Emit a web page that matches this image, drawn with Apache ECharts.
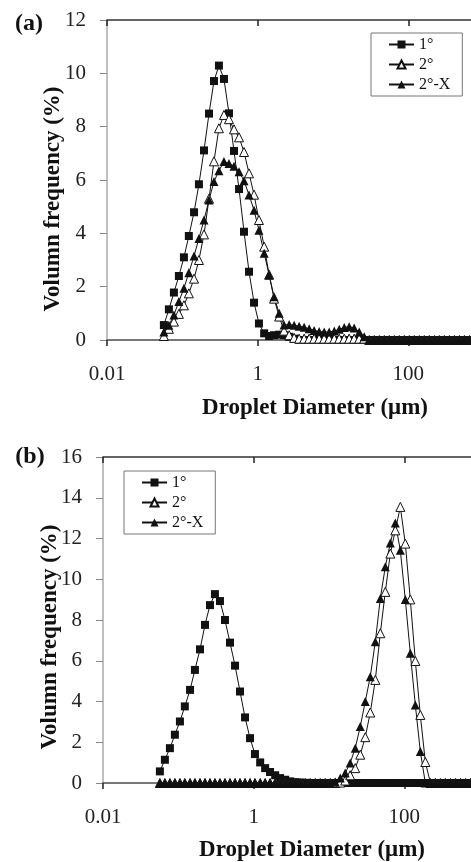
<!DOCTYPE html>
<html>
<head>
<meta charset="utf-8">
<script src="https://cdn.jsdelivr.net/npm/echarts/dist/echarts.min.js"></script>
<style>
	html, body { margin: 0; padding: 0; background: #fff; }
	#chart { width: 471px; height: 862px; }
</style>
</head>
<body>
<div id="chart"></div>
<script>
// droplet diameter bins (um), shared by both panels
var diameters = [
	0.0569, 0.0663, 0.0773, 0.0900, 0.105, 0.122, 0.143, 0.166, 0.194, 0.226,
	0.263, 0.306, 0.357, 0.416, 0.485, 0.566, 0.659, 0.768, 0.895, 1.04,
	1.22, 1.42, 1.65, 1.93, 2.24, 2.62, 3.05, 3.55, 4.14, 4.83,
	5.62, 6.55, 7.64, 8.90, 10.4, 12.1, 14.1, 16.4, 19.1, 22.3,
	26.0, 30.3, 35.3, 41.2, 48.0, 55.9, 65.2, 75.9, 88.5, 103,
	120, 140, 163, 190, 222, 258, 301, 351, 409, 477,
	556, 648, 755, 880, 1030, 1200, 1390, 1620, 1890, 2200,
	2570
];
var seriesNames = ['1°', '2°', '2°-X'];

// panel (a)
var aPrimary = [
	0.56, 1.15, 1.78, 2.40, 3.10, 3.90, 4.79, 5.84, 7.11, 8.49,
	9.71, 10.29, 9.79, 8.50, 7.09, 5.66, 4.06, 2.56, 1.40, 0.62,
	0.25, 0.15, 0.18, 0.20, 0.18, 0.12, 0.05, 0, 0, 0,
	0, 0, 0, 0, 0, 0, 0, 0, 0, 0,
	0, 0, 0, 0, 0, 0, 0, 0, 0, 0,
	0, 0, 0, 0, 0, 0, 0, 0, 0, 0,
	0, 0, 0, 0, 0, 0, 0, 0, 0, 0,
	0
];
var aSecondary = [
	0.15, 0.42, 0.69, 0.98, 1.30, 1.75, 2.30, 3.00, 3.96, 5.30,
	6.70, 7.94, 8.44, 8.28, 7.90, 7.60, 7.05, 6.25, 5.45, 4.50,
	3.50, 2.45, 1.55, 0.88, 0.35, 0.18, 0.08, 0.05, 0.05, 0.05,
	0.05, 0.05, 0.05, 0.05, 0.05, 0.05, 0.05, 0.05, 0.05, 0.05,
	0.05, 0, 0, 0, 0, 0, 0, 0, 0, 0,
	0, 0, 0, 0, 0, 0, 0, 0, 0, 0,
	0, 0, 0, 0, 0, 0, 0, 0, 0, 0,
	0
];
var aSecondaryX = [
	0.30, 0.55, 0.94, 1.44, 1.94, 2.52, 3.15, 3.81, 4.50, 5.25,
	5.94, 6.35, 6.69, 6.62, 6.52, 6.31, 5.97, 5.44, 4.87, 4.12,
	3.25, 2.44, 1.62, 1.00, 0.56, 0.58, 0.55, 0.52, 0.48, 0.42,
	0.36, 0.32, 0.30, 0.30, 0.34, 0.40, 0.47, 0.50, 0.45, 0.30,
	0.12, 0, 0, 0, 0, 0, 0, 0, 0, 0,
	0, 0, 0, 0, 0, 0, 0, 0, 0, 0,
	0, 0, 0, 0, 0, 0, 0, 0, 0, 0,
	0
];

// panel (b)
var bPrimary = [
	0.57, 1.14, 1.71, 2.37, 3.02, 3.76, 4.57, 5.55, 6.56, 7.76,
	8.73, 9.27, 8.93, 8.00, 6.89, 5.76, 4.49, 3.22, 2.20, 1.42,
	1.01, 0.73, 0.54, 0.38, 0.24, 0.16, 0.08, 0.04, 0.02, 0.01,
	0, 0, 0, 0, 0, 0, 0, 0, 0, 0,
	0, 0, 0, 0, 0, 0, 0, 0, 0, 0,
	0, 0, 0, 0, 0, 0, 0, 0, 0, 0,
	0, 0, 0, 0, 0, 0, 0, 0, 0, 0,
	0
];
var bSecondary = [
	0, 0, 0, 0, 0, 0, 0, 0, 0, 0,
	0, 0, 0, 0, 0, 0, 0, 0, 0, 0,
	0, 0, 0, 0, 0, 0, 0, 0, 0, 0,
	0, 0, 0, 0, 0, 0, 0.02, 0.12, 0.38, 0.73,
	1.39, 2.25, 3.46, 5.06, 7.35, 9.38, 11.26, 12.40, 13.55, 11.75,
	9.01, 5.99, 3.34, 1.03, 0, 0, 0, 0, 0, 0,
	0, 0, 0, 0, 0, 0, 0, 0, 0, 0,
	0
];
var bSecondaryX = [
	0, 0, 0, 0, 0, 0, 0, 0, 0, 0,
	0, 0, 0, 0, 0, 0, 0, 0, 0, 0,
	0, 0, 0, 0, 0, 0, 0, 0, 0, 0,
	0, 0, 0, 0, 0, 0.05, 0.24, 0.49, 0.98, 1.71,
	2.77, 4.00, 5.22, 6.93, 9.06, 10.61, 11.78, 12.76, 11.42, 9.01,
	6.37, 3.83, 1.55, 0, 0, 0, 0, 0, 0, 0,
	0, 0, 0, 0, 0, 0, 0, 0, 0, 0,
	0
];

var SERIF = '"Liberation Serif", "DejaVu Serif", serif';
var chart = echarts.init(document.getElementById('chart'));

function pairs(values) {
	return diameters.map(function (d, i) { return [d, values[i]]; });
}

// x axis with labels and outward ticks
function mainX(grid) {
	return {
		type: 'log', logBase: 100, min: 0.01, max: 10000, gridIndex: grid,
		axisLine: { lineStyle: { color: '#777', width: 2 } },
		axisTick: { length: 6, lineStyle: { color: '#222', width: 1.5 } },
		axisLabel: { margin: 24, color: '#222', fontSize: 21, fontFamily: SERIF, showMaxLabel: false },
		splitLine: { show: false },
		minorTick: { show: false }
	};
}
// inward half of the crossing ticks
function insideX(grid) {
	return {
		type: 'log', logBase: 100, min: 0.01, max: 10000, gridIndex: grid,
		axisLine: { show: false },
		axisTick: { inside: true, length: 6, lineStyle: { color: '#222', width: 1.5 } },
		axisLabel: { show: false },
		splitLine: { show: false }
	};
}
// top frame line
function topX(grid) {
	return {
		type: 'log', logBase: 100, min: 0.01, max: 10000, gridIndex: grid, position: 'top',
		axisLine: { lineStyle: { color: '#333', width: 1.5 } },
		axisTick: { show: false },
		axisLabel: { show: false },
		splitLine: { show: false }
	};
}
function yAx(grid, max) {
	return {
		type: 'value', gridIndex: grid, min: 0, max: max, interval: 2,
		axisLine: { show: true, lineStyle: { color: '#aaa', width: 1.5 } },
		axisTick: { show: true, length: 7, lineStyle: { color: '#888' } },
		axisLabel: { margin: 21, color: '#222', fontSize: 21, fontFamily: SERIF },
		splitLine: { show: false }
	};
}

var styles = [
	{ symbol: 'rect', symbolSize: 8, itemStyle: { color: '#111', borderColor: '#111', borderWidth: 0 } },
	{ symbol: 'triangle', symbolSize: 9, itemStyle: { color: '#fff', borderColor: '#111', borderWidth: 1 } },
	{ symbol: 'triangle', symbolSize: 9, itemStyle: { color: '#111', borderColor: '#111', borderWidth: 0 } }
];

function makeSeries(idx, values, xIdx, yIdx) {
	return {
		name: seriesNames[idx],
		type: 'line',
		xAxisIndex: xIdx,
		yAxisIndex: yIdx,
		symbol: styles[idx].symbol,
		symbolSize: styles[idx].symbolSize,
		itemStyle: styles[idx].itemStyle,
		lineStyle: { color: '#111', width: 1 },
		data: pairs(values)
	};
}

function legendAt(left, top) {
	return {
		data: seriesNames,
		orient: 'vertical',
		left: left,
		top: top,
		padding: [3, 12, 3, 17],
		itemGap: 3,
		itemWidth: 25,
		itemHeight: 10,
		borderColor: '#777',
		borderWidth: 1,
		borderRadius: 0,
		selectedMode: false,
		textStyle: { color: '#111', fontSize: 16, fontFamily: SERIF, lineHeight: 17 }
	};
}

function label(text, x, y, size, rotate) {
	return {
		type: 'text', x: x, y: y, rotation: rotate ? Math.PI / 2 : 0,
		style: {
			text: text, fill: '#111', font: 'bold ' + size + 'px ' + SERIF,
			textAlign: 'center', textVerticalAlign: 'middle'
		}
	};
}

var option = {
	animation: false,
	backgroundColor: '#fff',
	grid: [
		{ left: 107, top: 20, width: 452, height: 320, outerBoundsMode: 'none', containLabel: false },
		{ left: 103, top: 457, width: 452, height: 326, outerBoundsMode: 'none', containLabel: false }
	],
	xAxis: [mainX(0), insideX(0), topX(0), mainX(1), insideX(1), topX(1)],
	yAxis: [yAx(0, 12), yAx(1, 16)],
	legend: [legendAt(371, 33), legendAt(124, 471)],
	graphic: [
		label('(a)', 29, 24, 24, false),
		label('Volumn frequency (%)', 53, 199, 23, true),
		label('Droplet Diameter (μm)', 315, 408, 23, false),
		label('(b)', 30, 457, 24, false),
		label('Volumn frequency (%)', 50, 637, 23, true),
		label('Droplet Diameter (μm)', 312, 850, 23, false)
	],
	series: [
		makeSeries(0, aPrimary, 0, 0),
		makeSeries(1, aSecondary, 0, 0),
		makeSeries(2, aSecondaryX, 0, 0),
		makeSeries(0, bPrimary, 3, 1),
		makeSeries(1, bSecondary, 3, 1),
		makeSeries(2, bSecondaryX, 3, 1)
	]
};
chart.setOption(option);
</script>
</body>
</html>
